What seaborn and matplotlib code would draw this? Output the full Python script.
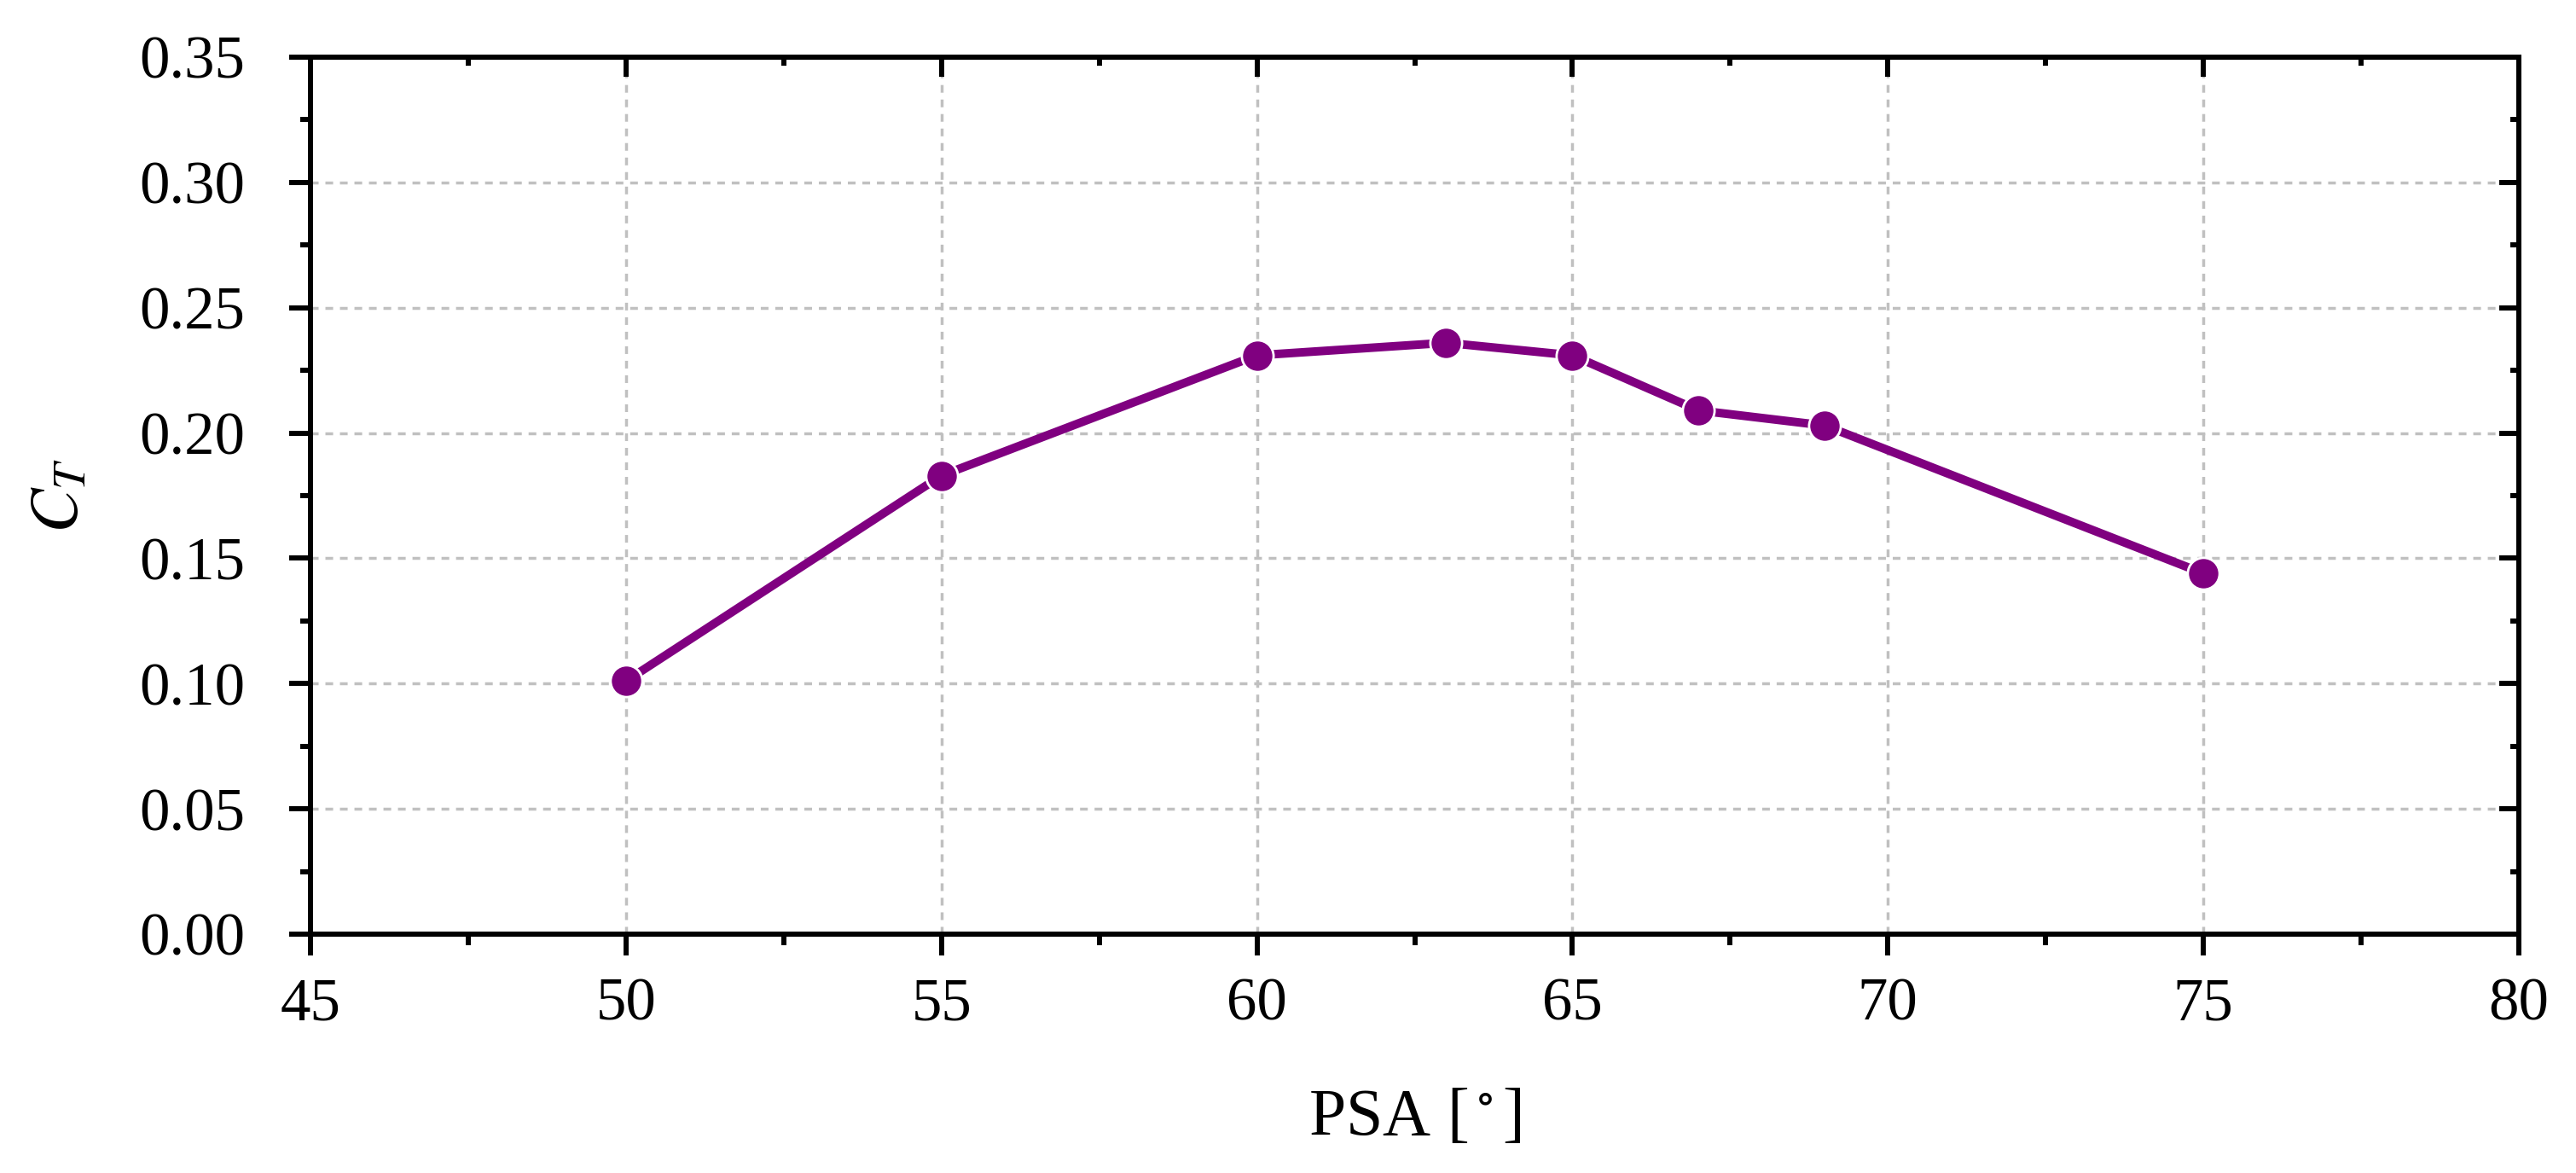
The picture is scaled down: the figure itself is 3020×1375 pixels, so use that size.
import numpy as np
import pandas as pd
import matplotlib
matplotlib.use("Agg")
import matplotlib.pyplot as plt
from matplotlib.ticker import MultipleLocator, FormatStrFormatter
import seaborn as sns

# ---- data ----
psa = [50, 55, 60, 63, 65, 67, 69, 75]
ct = [0.101, 0.183, 0.231, 0.236, 0.231, 0.209, 0.203, 0.144]
x_ticks = [45, 50, 55, 60, 65, 70, 75, 80]
y_ticks = [0.00, 0.05, 0.10, 0.15, 0.20, 0.25, 0.30, 0.35]
x_label = "PSA [$^\\circ$]"
y_label = "$C_T$"

sns.set_style("ticks")
plt.rcParams["font.family"] = ["Liberation Serif", "DejaVu Serif"]
plt.rcParams["mathtext.fontset"] = "stix"
plt.rcParams["text.color"] = "black"
plt.rcParams["axes.labelcolor"] = "black"
plt.rcParams["xtick.color"] = "black"
plt.rcParams["ytick.color"] = "black"

DPI = 200
LW = 2.15
fig = plt.figure(figsize=(3020 / DPI, 1375 / DPI), dpi=DPI)
ax = fig.add_axes([364 / 3020, 1 - 1095 / 1375, (2953 - 364) / 3020, (1095 - 67) / 1375])

df = pd.DataFrame({"PSA": psa, "CT": ct})
sns.lineplot(data=df, x="PSA", y="CT", ax=ax, color="#800080", linewidth=3.6,
             marker="o", markersize=13.4, markeredgecolor="white",
             markeredgewidth=1.0, markerfacecolor="#800080", zorder=5)

ax.set_xlim(x_ticks[0], x_ticks[-1])
ax.set_ylim(y_ticks[0], y_ticks[-1])
ax.set_xticks(x_ticks)
ax.set_yticks(y_ticks)
ax.xaxis.set_minor_locator(MultipleLocator(2.5))
ax.yaxis.set_minor_locator(MultipleLocator(0.025))
ax.yaxis.set_major_formatter(FormatStrFormatter("%.2f"))

# grid
ax.grid(True, which="major", axis="both", color="#c0c0c0", lw=1.25,
        linestyle=(0, (2.6, 2.3)))
ax.set_axisbelow(True)

for s in ax.spines.values():
    s.set_linewidth(LW)
    s.set_color("black")
    s.set_visible(True)

ax.tick_params(axis="both", which="major", direction="out", length=9, width=LW,
               labelsize=25.5, colors="black", bottom=True, left=True,
               top=False, right=False)
ax.tick_params(axis="both", which="minor", direction="out", length=4.5, width=LW,
               bottom=True, left=True, top=False, right=False)
ax.tick_params(axis="x", which="major", pad=9)
ax.tick_params(axis="y", which="major", pad=18.5)

# top inward ticks
tx = ax.twiny()
tx.set_xlim(ax.get_xlim())
tx.set_xticks(x_ticks)
tx.xaxis.set_minor_locator(MultipleLocator(2.5))
tx.tick_params(axis="x", which="major", direction="in", length=8.3, width=LW,
               top=True, bottom=False, labeltop=False, labelbottom=False)
tx.tick_params(axis="x", which="minor", direction="in", length=3.6, width=LW,
               top=True, bottom=False)
tx.grid(False)

# right inward ticks
ty = ax.twinx()
ty.set_ylim(ax.get_ylim())
ty.set_yticks(y_ticks)
ty.yaxis.set_minor_locator(MultipleLocator(0.025))
ty.tick_params(axis="y", which="major", direction="in", length=8.3, width=LW,
               right=True, left=False, labelright=False, labelleft=False)
ty.tick_params(axis="y", which="minor", direction="in", length=3.6, width=LW,
               right=True, left=False)
ty.grid(False)
for t in (tx, ty):
    for s in t.spines.values():
        s.set_linewidth(LW)
        s.set_color("black")

ax.set_xlabel(x_label, fontsize=28, color="black")
ax.set_ylabel(y_label, fontsize=28, color="black")
ax.xaxis.set_label_coords(0.5, -0.21)
ax.xaxis.label.set_verticalalignment("center")
ax.yaxis.set_label_coords(-0.113, 0.5)
ax.yaxis.label.set_verticalalignment("center")

fig.savefig("out.png", dpi=DPI)
